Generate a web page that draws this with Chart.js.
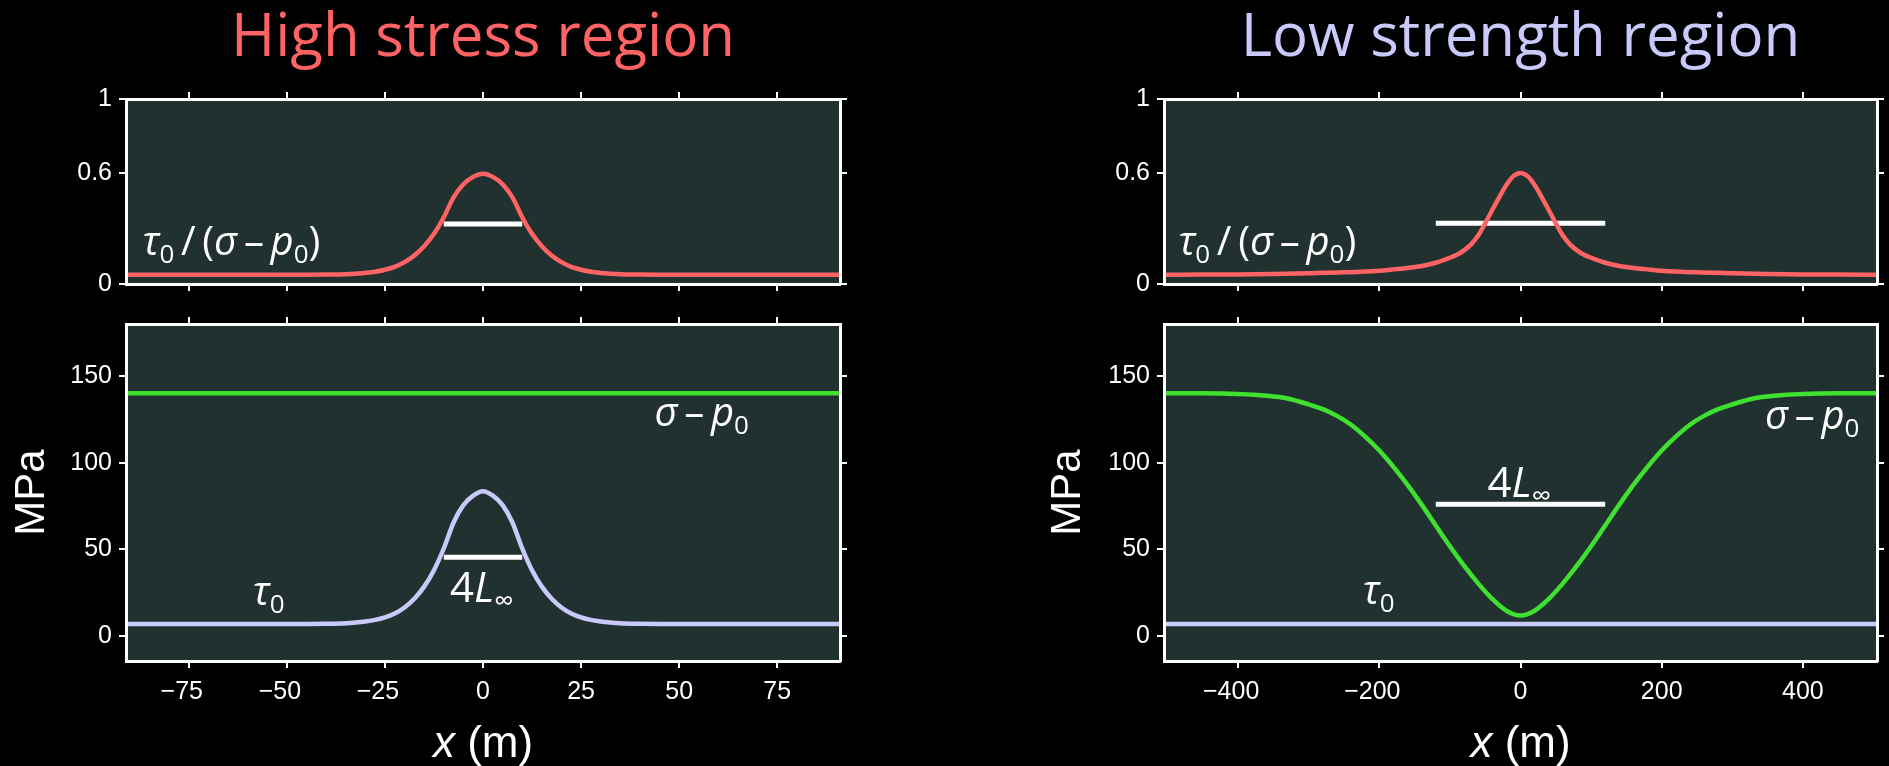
<!DOCTYPE html>
<html>
<head>
<meta charset="utf-8">
<script src="https://cdn.jsdelivr.net/npm/chart.js@4.4.1/dist/chart.umd.min.js"></script>
<style>
  html, body { margin: 0; padding: 0; background: #000; }
  #wrap { position: relative; width: 1889px; height: 766px; overflow: hidden; background: #000; }
  #wrap canvas { position: absolute; left: 0; top: 0; }
</style>
</head>
<body>
<div id="wrap">
  <canvas id="highTop" width="1889" height="766"></canvas>
  <canvas id="highBottom" width="1889" height="766"></canvas>
  <canvas id="lowTop" width="1889" height="766"></canvas>
  <canvas id="lowBottom" width="1889" height="766"></canvas>
</div>
<script>
// ---- values ----

// high stress region (x in m)
const highX = [-91, -45, -40, -35, -32.5, -30, -27.5, -25, -22.5, -20, -17.5, -15, -12.5, -10, -7.5, -5, -2.5,
  0, 2.5, 5, 7.5, 10, 12.5, 15, 17.5, 20, 22.5, 25, 27.5, 30, 32.5, 35, 40, 45, 91]
const highTau = [7, 7, 7.1, 7.4, 7.8, 8.4, 9.3, 10.8, 13, 16.5, 21.5, 28.5, 38, 50.5, 65.5, 75.5, 81,
  83.5, 81, 75.5, 65.5, 50.5, 38, 28.5, 21.5, 16.5, 13, 10.8, 9.3, 8.4, 7.8, 7.4, 7.1, 7, 7]
const highRatio = [0.05, 0.05, 0.051, 0.053, 0.056, 0.06, 0.066, 0.077, 0.093, 0.118, 0.154, 0.204, 0.271, 0.361, 0.468, 0.539, 0.579,
  0.596, 0.579, 0.539, 0.468, 0.361, 0.271, 0.204, 0.154, 0.118, 0.093, 0.077, 0.066, 0.06, 0.056, 0.053, 0.051, 0.05, 0.05]
const highSigmaX = [-91, 91]
const highSigma = [140, 140]
const highBarX = [-10, 10]
const highBarRatio = [0.325, 0.325]
const highBarMPa = [45.5, 45.5]

// low strength region (x in m)
const lowX = [-505, -450, -400, -360, -330, -300, -280, -260, -240, -220, -200, -180, -160, -140, -120, -100, -80, -60, -40, -20,
  0, 20, 40, 60, 80, 100, 120, 140, 160, 180, 200, 220, 240, 260, 280, 300, 330, 360, 400, 450, 505]
const lowSigma = [140, 140, 139.6, 138.6, 137, 133.6, 130.9, 127, 121.9, 115, 107, 97.6, 87.2, 75.8, 63.8, 51.8, 40.6, 30.4, 21.4, 14.6,
  11.8, 14.6, 21.4, 30.4, 40.6, 51.8, 63.8, 75.8, 87.2, 97.6, 107, 115, 121.9, 127, 130.9, 133.6, 137, 138.6, 139.6, 140, 140]
const lowRatioX = [-505, -450, -400, -350, -300, -250, -200, -180, -160, -140, -120, -100, -90, -80, -70, -60, -50, -40, -30, -20, -10,
  0, 10, 20, 30, 40, 50, 60, 70, 80, 90, 100, 120, 140, 160, 180, 200, 250, 300, 350, 400, 450, 505]
const lowRatio = [0.05, 0.051, 0.052, 0.054, 0.058, 0.063, 0.072, 0.079, 0.087, 0.097, 0.115, 0.142, 0.158, 0.182, 0.214, 0.262, 0.328, 0.4, 0.47, 0.535, 0.583,
  0.6, 0.583, 0.535, 0.47, 0.4, 0.328, 0.262, 0.214, 0.182, 0.158, 0.142, 0.115, 0.097, 0.087, 0.079, 0.072, 0.063, 0.058, 0.054, 0.052, 0.051, 0.05]
const lowTauX = [-505, 505]
const lowTau = [7, 7]
const lowBarX = [-120, 120]
const lowBarRatio = [0.328, 0.328]
const lowBarMPa = [76, 76]

// ticks
const highXTicks = [-75, -50, -25, 0, 25, 50, 75]
const highXLabels = ['\u221275\u2007', '\u221250\u2007', '\u221225\u2007', '0', '25', '50', '75']
const lowXTicks = [-400, -200, 0, 200, 400]
const lowXLabels = ['\u2212400\u2007', '\u2212200\u2007', '0', '200', '400']
const ratioTicks = [0, 0.6, 1]
const ratioLabels = ['0', '0.6', '1']
const mpaTicks = [0, 50, 100, 150]
const mpaLabels = ['0', '50', '100', '150']

// ---- look ----
const W = 1889, H = 766
const panelBg = '#213130'
const red = '#ff6363'
const lavender = '#c9c9fb'
const green = '#40e030'
const tickFont = { family: '"Liberation Sans", Arial, sans-serif', size: 25 }
const textFamily = '"Open Sans", "Noto Sans", sans-serif'
const cols = { high: { left: 126, right: 840 }, low: { left: 1164, right: 1877 } }
const rows = { top: { top: 99, bottom: 284 }, bottom: { top: 324, bottom: 661 } }

function line(xs, ys, color, width) {
  return {
    data: xs.map((x, i) => ({ x: x, y: ys[i] })),
    borderColor: color,
    borderWidth: width || 4.5,
    borderCapStyle: 'butt',
    pointRadius: 0,
    cubicInterpolationMode: 'monotone',
    fill: false
  }
}

function axis(pos, min, max, ticks, labels, size, title) {
  return {
    type: 'linear',
    axis: (pos === 'top' || pos === 'bottom') ? 'x' : 'y',
    position: pos,
    min: min,
    max: max,
    border: { display: true, color: '#fff', width: 3, z: 1 },
    grid: { display: true, drawOnChartArea: false, drawTicks: true, tickLength: 7, tickWidth: 2, tickColor: '#fff', color: '#fff', lineWidth: 2 },
    ticks: {
      display: !!labels,
      color: '#fff',
      font: tickFont,
      padding: (pos === 'left') ? 7 : 9,
      callback: (v, i) => labels ? labels[i] : ''
    },
    title: title || { display: false },
    afterBuildTicks: s => { s.ticks = ticks.map(v => ({ value: v })) },
    afterFit: s => { if (s.isHorizontal()) s.height = size; else s.width = size }
  }
}

// text with italic / subscript pieces
function drawRich(ctx, segs, x, y, size, color, align, family) {
  const parts = segs.map(s => {
    const sz = s.sub ? size * 0.65 : size
    const font = (s.it ? 'italic ' : '') + sz + 'px ' + (family || textFamily)
    ctx.font = font
    return { t: s.t, font: font, w: ctx.measureText(s.t).width, dy: s.sub ? size * 0.2 : 0 }
  })
  const total = parts.reduce((a, p) => a + p.w, 0)
  let cx = align === 'center' ? x - total / 2 : x
  ctx.fillStyle = color
  ctx.textAlign = 'left'
  ctx.textBaseline = 'alphabetic'
  parts.forEach(p => {
    ctx.font = p.font
    ctx.fillText(p.t, cx, y + p.dy)
    cx += p.w
  })
}

const ratioText = [{ t: '\u03c4', it: true }, { t: '0', sub: true }, { t: '\u2009/\u2009(' }, { t: '\u03c3', it: true }, { t: '\u2009\u2013\u2009' }, { t: 'p', it: true }, { t: '0', sub: true }, { t: ')' }]
const sigmaText = [{ t: '\u03c3', it: true }, { t: '\u2009\u2013\u2009' }, { t: 'p', it: true }, { t: '0', sub: true }]
const tauText = [{ t: '\u03c4', it: true }, { t: '0', sub: true }]
const lengthText = [{ t: '4' }, { t: 'L', it: true }, { t: '\u221e', sub: true }]
const xTitle = [{ t: 'x', it: true }, { t: ' (m)' }]

function makeChart(id, col, row, xMin, xMax, xTicks, xLabels, yMin, yMax, yTicks, yLabels, datasets, texts, yWidth, yTitle) {
  const c = cols[col], r = rows[row]
  const xHeight = row === 'bottom' ? 60 : 12
  const labelsPlugin = {
    id: 'labels_' + id,
    beforeDraw: chart => {
      const a = chart.chartArea, ctx = chart.ctx
      ctx.save()
      ctx.fillStyle = panelBg
      ctx.fillRect(a.left, a.top, a.right - a.left, a.bottom - a.top)
      ctx.restore()
    },
    afterDraw: chart => {
      const ctx = chart.ctx
      ctx.save()
      texts.forEach(t => {
        const p = t.pos(chart)
        drawRich(ctx, t.segs, p[0], p[1], t.size, t.color || '#fff', t.align, t.family)
      })
      ctx.restore()
    }
  }
  return new Chart(document.getElementById(id), {
    type: 'line',
    data: { datasets: datasets },
    options: {
      responsive: false,
      animation: false,
      devicePixelRatio: 1,
      events: [],
      layout: { padding: { left: c.left - yWidth, right: W - c.right - 12, top: r.top - 12, bottom: H - r.bottom - xHeight } },
      plugins: { legend: { display: false }, tooltip: { enabled: false }, title: { display: false } },
      scales: {
        x: axis('bottom', xMin, xMax, xTicks, row === 'bottom' ? xLabels : null, xHeight),
        x2: axis('top', xMin, xMax, xTicks, null, 12),
        y: axis('left', yMin, yMax, yTicks, yLabels, yWidth, yTitle),
        y2: axis('right', yMin, yMax, yTicks, null, 12)
      }
    },
    plugins: [labelsPlugin]
  })
}

const mpaTitle = { display: true, text: 'MPa', color: '#fff', font: { family: '"Liberation Sans", Arial, sans-serif', size: 42, lineHeight: 1 }, padding: 0 }
const atData = (x, y) => ch => [ch.scales.x.getPixelForValue(x), ch.scales.y.getPixelForValue(y)]
const centerAt = y => ch => [(ch.chartArea.left + ch.chartArea.right) / 2, y]

makeChart('highTop', 'high', 'top', -91, 91, highXTicks, highXLabels, 0, 1, ratioTicks, ratioLabels,
  [line(highX, highRatio, red), line(highBarX, highBarRatio, '#fff', 5)],
  [
    { segs: [{ t: 'High stress region' }], pos: centerAt(56), size: 60, color: red, align: 'center' },
    { segs: ratioText, pos: atData(-86.8, 0.157), size: 40 }
  ], 70)

makeChart('highBottom', 'high', 'bottom', -91, 91, highXTicks, highXLabels, -14.4, 180, mpaTicks, mpaLabels,
  [line(highSigmaX, highSigma, green), line(highX, highTau, lavender), line(highBarX, highBarMPa, '#fff', 5)],
  [
    { segs: sigmaText, pos: atData(43.7, 121.2), size: 40 },
    { segs: tauText, pos: atData(-58.7, 17.9), size: 40 },
    { segs: lengthText, pos: atData(-8.4, 19.8), size: 42 },
    { segs: xTitle, pos: centerAt(757), size: 44, align: 'center', family: '"Liberation Sans", Arial, sans-serif' }
  ], 115, mpaTitle)

makeChart('lowTop', 'low', 'top', -505, 505, lowXTicks, lowXLabels, 0, 1, ratioTicks, ratioLabels,
  [line(lowRatioX, lowRatio, red), line(lowBarX, lowBarRatio, '#fff', 5)],
  [
    { segs: [{ t: 'Low strength region' }], pos: centerAt(56), size: 60, color: lavender, align: 'center' },
    { segs: ratioText, pos: atData(-484.6, 0.157), size: 40 }
  ], 70)

makeChart('lowBottom', 'low', 'bottom', -505, 505, lowXTicks, lowXLabels, -14.4, 180, mpaTicks, mpaLabels,
  [line(lowTauX, lowTau, lavender), line(lowX, lowSigma, green), line(lowBarX, lowBarMPa, '#fff', 5)],
  [
    { segs: sigmaText, pos: atData(346.3, 119.2), size: 40 },
    { segs: tauText, pos: atData(-223.4, 18.5), size: 40 },
    { segs: lengthText, pos: atData(-46.7, 80.4), size: 42 },
    { segs: xTitle, pos: centerAt(757), size: 44, align: 'center', family: '"Liberation Sans", Arial, sans-serif' }
  ], 117, mpaTitle)
</script>
</body>
</html>
